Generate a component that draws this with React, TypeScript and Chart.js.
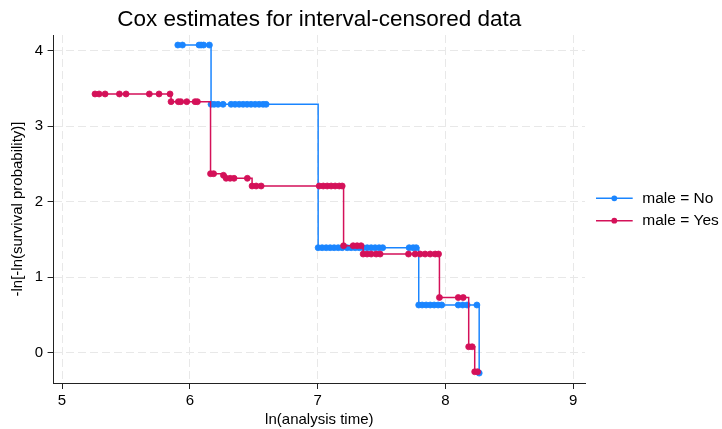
import React, { useEffect, useRef } from "react";
import { Chart, registerables } from "chart.js";

Chart.register(...registerables);

const TITLE = "Cox estimates for interval-censored data";
const X_TITLE = "ln(analysis time)";
const Y_TITLE = "-ln[-ln(survival probability)]";
const SERIES_LABELS = ["male = No", "male = Yes"];
const SERIES_COLORS = ["#1a85ff", "#d41159"];
const X_TICKS = [5, 6, 7, 8, 9];
const Y_TICKS = [0, 1, 2, 3, 4];

// male = No
const noX = [
  5.906, 5.942, 6.072, 6.088, 6.108, 6.153,
  6.166, 6.19, 6.221, 6.26, 6.323, 6.354, 6.386, 6.417, 6.448, 6.479, 6.511, 6.542, 6.573, 6.597,
  7.004, 7.035, 7.067, 7.098, 7.129, 7.161, 7.192, 7.231, 7.262, 7.294, 7.325, 7.356, 7.388, 7.419,
  7.45, 7.481, 7.509, 7.716, 7.747, 7.771,
  7.791, 7.818, 7.849, 7.881, 7.912, 7.943, 7.971, 8.1, 8.135, 8.17, 8.246,
  8.264,
];
const noY = [
  4.075, 4.075, 4.075, 4.075, 4.075, 4.075,
  3.29, 3.29, 3.29, 3.29, 3.29, 3.29, 3.29, 3.29, 3.29, 3.29, 3.29, 3.29, 3.29, 3.29,
  1.391, 1.391, 1.391, 1.391, 1.391, 1.391, 1.391, 1.391, 1.391, 1.391, 1.391, 1.391, 1.391, 1.391,
  1.391, 1.391, 1.391, 1.391, 1.391, 1.391,
  0.632, 0.632, 0.632, 0.632, 0.632, 0.632, 0.632, 0.632, 0.632, 0.632, 0.632,
  -0.27,
];

// male = Yes
const yesX = [
  5.258, 5.29, 5.337, 5.449, 5.501, 5.683, 5.759, 5.845,
  5.853, 5.91, 5.929, 5.976, 6.041, 6.059,
  6.162, 6.186,
  6.263,
  6.284, 6.315, 6.346, 6.45,
  6.487, 6.519, 6.558, 7.012, 7.044, 7.075, 7.106, 7.137, 7.169, 7.192,
  7.203, 7.278, 7.309, 7.34,
  7.356, 7.387, 7.419, 7.458, 7.489, 7.711, 7.763, 7.802, 7.841, 7.881, 7.92, 7.946,
  7.953, 8.1, 8.139,
  8.182, 8.209,
  8.229, 8.252,
];
const yesY = [
  3.427, 3.427, 3.427, 3.427, 3.427, 3.427, 3.427, 3.427,
  3.325, 3.325, 3.325, 3.325, 3.325, 3.325,
  2.371, 2.371,
  2.35,
  2.31, 2.31, 2.31, 2.31,
  2.208, 2.208, 2.208, 2.208, 2.208, 2.208, 2.208, 2.208, 2.208, 2.208,
  1.417, 1.417, 1.417, 1.417,
  1.307, 1.307, 1.307, 1.307, 1.307, 1.307, 1.307, 1.307, 1.307, 1.307, 1.307, 1.307,
  0.731, 0.731, 0.731,
  0.079, 0.079,
  -0.252, -0.252,
];

const FONT = '"Liberation Sans", Arial, Helvetica, sans-serif';

const sideLegend = {
  id: "sideLegend",
  afterDraw(chart: any) {
    const { ctx, chartArea } = chart;
    const ds = chart.data.datasets;
    const gap = 22.4;
    const cy = (chartArea.top + chartArea.bottom) / 2 + 0.5;
    const x0 = chartArea.right + 11;
    ds.forEach((d: any, i: number) => {
      const y = cy - (gap * (ds.length - 1)) / 2 + i * gap;
      ctx.save();
      ctx.strokeStyle = d.borderColor;
      ctx.lineWidth = 1.5;
      ctx.beginPath();
      ctx.moveTo(x0, y);
      ctx.lineTo(x0 + 36.7, y);
      ctx.stroke();
      ctx.fillStyle = d.pointBackgroundColor;
      ctx.beginPath();
      ctx.arc(x0 + 18.3, y, 2.9, 0, Math.PI * 2);
      ctx.fill();
      ctx.fillStyle = "#000";
      ctx.font = `15.5px ${FONT}`;
      ctx.textBaseline = "middle";
      ctx.textAlign = "left";
      ctx.fillText(d.label, x0 + 46.3, y);
      ctx.restore();
    });
  },
};

function makeSeries(xs: number[], ys: number[]) {
  return xs.map((x, i) => ({ x, y: ys[i] }));
}

export default function App() {
  const ref = useRef<HTMLCanvasElement | null>(null);

  useEffect(() => {
    if (!ref.current) return;
    const mk = (i: number, xs: number[], ys: number[], order: number) => ({
      label: SERIES_LABELS[i],
      data: makeSeries(xs, ys),
      borderColor: SERIES_COLORS[i],
      backgroundColor: SERIES_COLORS[i],
      pointBackgroundColor: SERIES_COLORS[i],
      pointBorderColor: SERIES_COLORS[i],
      pointRadius: 3,
      pointBorderWidth: 0.8,
      borderWidth: 1.5,
      stepped: "before" as const,
      fill: false,
      order,
    });
    const chart = new Chart(ref.current, {
      type: "line",
      data: {
        datasets: [mk(0, noX, noY, 1), mk(1, yesX, yesY, 0)],
      },
      options: {
        animation: false,
        responsive: false,
        layout: { padding: { left: 0, right: 137, top: 0, bottom: 0 } },
        plugins: {
          legend: { display: false },
          tooltip: { enabled: false },
          title: {
            display: true,
            text: TITLE,
            fullSize: false,
            color: "#000",
            font: { family: FONT, size: 22.5, weight: "normal" },
            padding: { top: 6, bottom: 2 },
          },
        },
        scales: {
          x: {
            type: "linear",
            min: 4.934,
            max: 9.092,
            afterBuildTicks: (axis: any) => {
              axis.ticks = X_TICKS.map((v) => ({ value: v }));
            },
            afterFit: (axis: any) => {
              axis.height = 46;
            },
            ticks: {
              color: "#000",
              font: { family: FONT, size: 15 },
              padding: 3,
              maxRotation: 0,
            },
            grid: {
              color: "#e8e8e8",
              lineWidth: 1,
              tickLength: 6,
              tickColor: "#222",
              tickBorderDash: [],
            },
            border: { display: true, color: "#222", width: 1, dash: [8, 4] },
            title: {
              display: true,
              text: X_TITLE,
              color: "#000",
              font: { family: FONT, size: 15 },
              padding: { top: 0, bottom: 0 },
            },
          },
          y: {
            type: "linear",
            min: -0.401,
            max: 4.208,
            afterBuildTicks: (axis: any) => {
              axis.ticks = Y_TICKS.map((v) => ({ value: v }));
            },
            afterFit: (axis: any) => {
              axis.width = 53.6;
            },
            ticks: {
              color: "#000",
              font: { family: FONT, size: 15 },
              padding: 4.4,
            },
            grid: {
              color: "#e8e8e8",
              lineWidth: 1,
              tickLength: 6,
              tickColor: "#222",
              tickBorderDash: [],
            },
            border: { display: true, color: "#222", width: 1, dash: [8, 4] },
            title: {
              display: true,
              text: Y_TITLE,
              color: "#000",
              font: { family: FONT, size: 15 },
              padding: { top: 9, bottom: 0 },
            },
          },
        },
      },
      plugins: [sideLegend],
    });
    return () => chart.destroy();
  }, []);

  return (
    <div style={{ position: "fixed", left: 0, top: 0, width: 722, height: 429, background: "#fff" }}>
      <canvas ref={ref} width={722} height={429} style={{ display: "block" }} />
    </div>
  );
}
